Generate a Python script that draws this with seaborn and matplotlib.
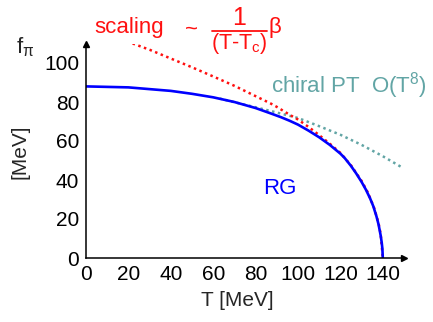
import matplotlib
matplotlib.use("Agg")
import matplotlib.pyplot as plt
from matplotlib.lines import Line2D
import seaborn as sns
import pandas as pd

# ---- data ----
rg_T = [0, 20, 40, 50, 60, 70, 80, 87, 92, 96, 100, 105, 110, 115, 120, 122, 125, 127.5, 130, 132, 134, 135.5,
        137, 138, 139, 139.5, 139.8, 140]
rg_f = [88, 87.5, 85.7, 84.2, 82.4, 80, 76.9, 74.2, 72.2, 70.4, 68.4, 65.3, 61.9, 58, 53.5, 51.3, 47.2, 43.3, 39, 35.1, 30.6, 26.6,
        21.4, 17.2, 11.5, 7.8, 4.8, 0]

scal_T = [22, 30, 40, 50, 60, 70, 80, 87, 90, 96, 100, 105, 110, 115, 120, 125, 130, 133, 136, 138, 139, 140]
scal_f = [110, 106.8, 102.3, 97.8, 93.1, 88.3, 83, 79.3, 77.5, 73.5, 71, 67.2, 63, 58.6, 53.9, 47.5, 39.5, 33.5, 25.4, 17.8, 12.2, 0]

chpt_T = [63, 70, 80, 90, 100, 110, 120, 130, 140, 149]
chpt_f = [81.8, 79.9, 77.3, 74.6, 71.8, 67.6, 63.2, 58, 52.2, 46.5]

x_ticks = [0, 20, 40, 60, 80, 100, 120, 140]
y_ticks = [0, 20, 40, 60, 80, 100]

sns.set_style("white")
plt.rcParams['font.family'] = ['Liberation Sans', 'DejaVu Sans']
plt.rcParams['mathtext.fontset'] = 'custom'
plt.rcParams['mathtext.rm'] = 'Liberation Sans'
plt.rcParams['mathtext.it'] = 'Liberation Sans'
plt.rcParams['mathtext.bf'] = 'Liberation Sans'

W, H = 433, 322
fig = plt.figure(figsize=(W / 100, H / 100), dpi=100)
ax = fig.add_axes([86 / W, 1 - 258 / H, 318 / W, 214.5 / H])

RED = '#ff1010'
TEAL = '#62a5a5'
BLUE = '#0000ff'

df_rg = pd.DataFrame({'T': rg_T, 'f': rg_f})
df_sc = pd.DataFrame({'T': scal_T, 'f': scal_f})
df_ch = pd.DataFrame({'T': chpt_T, 'f': chpt_f})

sns.lineplot(data=df_ch, x='T', y='f', ax=ax, color=TEAL, lw=1.8, linestyle=(0, (1, 1.4)), sort=False, estimator=None)
sns.lineplot(data=df_sc, x='T', y='f', ax=ax, color=RED, lw=1.8, linestyle=(0, (1, 1.4)), sort=False, estimator=None)
sns.lineplot(data=df_rg, x='T', y='f', ax=ax, color=BLUE, lw=1.9, sort=False, estimator=None)

ax.set_xlim(0, 150)
ax.set_ylim(0, 110)
ax.set_xticks(x_ticks)
ax.set_yticks(y_ticks)
ax.tick_params(direction='in', length=4, width=1, labelsize=15, pad=5, colors='black')
for s in ['top', 'right']:
    ax.spines[s].set_visible(False)
for s in ['left', 'bottom']:
    ax.spines[s].set_color('black')
    ax.spines[s].set_linewidth(1.1)
ax.set_xlabel('')
ax.set_ylabel('')

# axis arrows
ax.plot(1, 0, marker='>', color='black', markersize=4, transform=ax.get_yaxis_transform(), clip_on=False)
ax.plot(0, 1, marker='^', color='black', markersize=4, transform=ax.get_xaxis_transform(), clip_on=False)

def fx(px):
    return px / W

def fy(py):
    return 1 - py / H

fig.text(fx(237), fy(300), 'T [MeV]', fontsize=15, ha='center', va='center')
fig.text(fx(20), fy(152), '[MeV]', fontsize=15, ha='center', va='center', rotation=90)
fig.text(fx(25), fy(47), r'f$_{\pi}$', fontsize=16, ha='center', va='center')

fig.text(fx(129), fy(27), 'scaling', fontsize=16, ha='center', va='center', color=RED)
fig.text(fx(191), fy(29), '~', fontsize=16, ha='center', va='center', color=RED)
# fraction 1/(T-Tc)
fig.text(fx(239), fy(18), '1', fontsize=18, ha='center', va='center', color=RED)
fig.add_artist(Line2D([fx(212), fx(267)], [fy(31), fy(31)], color=RED, lw=1.3, transform=fig.transFigure))
fig.text(fx(211), fy(44), r'(T-T$_\mathrm{c}$)', fontsize=15.5, ha='left', va='center', color=RED)
fig.text(fx(275), fy(28), 'β', fontsize=16, ha='center', va='center', color=RED)

fig.text(fx(349), fy(86), r'chiral PT  O(T$^{8}$)', fontsize=16, ha='center', va='center', color=TEAL)
fig.text(fx(280), fy(188), 'RG', fontsize=16, ha='center', va='center', color=BLUE)

fig.savefig('out.png', dpi=100)
